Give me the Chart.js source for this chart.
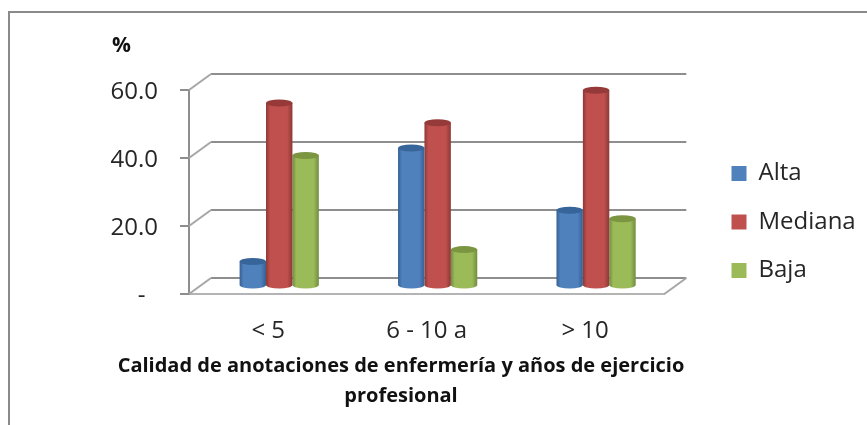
<!DOCTYPE html>
<html lang="es">
<head>
<meta charset="utf-8">
<title>Calidad de anotaciones</title>
<script src="https://cdn.jsdelivr.net/npm/chart.js@4/dist/chart.umd.js"></script>
<style>
    html, body { margin: 0; padding: 0; background: #fff; overflow: hidden; }
    #frame { position: absolute; left: 8px; top: 11px; right: 0; bottom: 0; border-left: 2px solid #8a8a8a; border-top: 2px solid #8a8a8a; }
    #chart { position: absolute; left: 0; top: 0; }
</style>
</head>
<body>
<div id="frame"></div>
<canvas id="chart" width="867" height="425"></canvas>
<script>
const categories = ['< 5', '6 - 10 a', '> 10'];
const alta = [7.2, 40.6, 22.3];
const mediana = [53.8, 48.0, 57.6];
const baja = [38.4, 10.7, 19.8];
const yTicks = [0, 20, 40, 60];
const unitLabel = '%';
const axisTitle = ['Calidad de anotaciones de enfermería y años de ejercicio', 'profesional'];

const FONT = '"Open Sans", "Noto Sans", sans-serif';
const DEPTH = { x: 22, y: -16 };
const EDGE = { alta: '#376092', mediana: '#8c3836', baja: '#728c40' };
const CAP = { alta: '#376599', mediana: '#953a38', baja: '#7b9541' };

// cylinder with dark sides and a darker elliptical cap, set halfway into the floor
function drawCylinder(ctx, bar, color, edge, cap) {
    const x = bar.x + DEPTH.x / 2, w = bar.width;
    const top = bar.y + DEPTH.y / 2, bottom = bar.base + DEPTH.y / 2;
    const ry = 3.5;
    const grad = ctx.createLinearGradient(x - w / 2, 0, x + w / 2, 0);
    grad.addColorStop(0, edge);
    grad.addColorStop(0.15, color);
    grad.addColorStop(0.8, color);
    grad.addColorStop(1, edge);
    ctx.fillStyle = grad;
    ctx.beginPath();
    ctx.moveTo(x - w / 2, top);
    ctx.lineTo(x - w / 2, bottom);
    ctx.ellipse(x, bottom, w / 2, ry, 0, Math.PI, 0, true);
    ctx.lineTo(x + w / 2, top);
    ctx.closePath();
    ctx.fill();
    ctx.fillStyle = cap;
    ctx.beginPath();
    ctx.ellipse(x, top, w / 2, ry, 0, 0, Math.PI * 2);
    ctx.fill();
}

const box3d = {
    id: 'box3d',
    afterLayout(chart) {
        // legend sits apart from the plot, aligned with the category band
        const legend = chart.legend;
        legend.left = 707;
        legend.right = chart.width;
        legend.top = 137;
        legend.bottom = chart.height;
    },
    beforeDatasetsDraw(chart) {
        const { ctx, scales: { x, y } } = chart;
        ctx.save();
        ctx.lineWidth = 2;
        yTicks.forEach(v => {
            const py = y.getPixelForValue(v);
            ctx.strokeStyle = '#8e8e8e';
            ctx.beginPath();
            ctx.moveTo(x.left + DEPTH.x, py + DEPTH.y);
            ctx.lineTo(x.right + DEPTH.x, py + DEPTH.y);
            ctx.stroke();
            ctx.strokeStyle = '#a6a6a6';
            ctx.beginPath();
            ctx.moveTo(x.left, py);
            ctx.lineTo(x.left + DEPTH.x, py + DEPTH.y);
            ctx.stroke();
        });
        // right edge of the floor
        const floor = y.getPixelForValue(0);
        ctx.strokeStyle = '#a6a6a6';
        ctx.beginPath();
        ctx.moveTo(x.right, floor);
        ctx.lineTo(x.right + DEPTH.x, floor + DEPTH.y);
        ctx.stroke();
        ctx.restore();
    },
    beforeDatasetDraw(chart, args) {
        const ds = chart.data.datasets[args.index];
        args.meta.data.forEach(el => {
            drawCylinder(chart.ctx, el.getProps(['x', 'y', 'base', 'width'], true), ds.backgroundColor, ds.edgeColor, ds.capColor);
        });
        return false;
    },
    afterDraw(chart) {
        const { ctx, scales: { y } } = chart;
        ctx.save();
        ctx.fillStyle = '#111';
        ctx.textBaseline = 'middle';
        ctx.font = 'bold 21px ' + FONT;
        ctx.textAlign = 'left';
        ctx.fillText(unitLabel, 112, y.top - 44);
        ctx.font = 'bold 20px ' + FONT;
        ctx.textAlign = 'center';
        axisTitle.forEach((line, i) => ctx.fillText(line, 401, 366 + i * 30));
        ctx.restore();
    }
};

new Chart(document.getElementById('chart'), {
    type: 'bar',
    plugins: [box3d],
    data: {
        labels: categories,
        datasets: [
            { label: 'Alta', data: alta, backgroundColor: '#4f81bd', edgeColor: EDGE.alta, capColor: CAP.alta },
            { label: 'Mediana', data: mediana, backgroundColor: '#c0504d', edgeColor: EDGE.mediana, capColor: CAP.mediana },
            { label: 'Baja', data: baja, backgroundColor: '#9bbb59', edgeColor: EDGE.baja, capColor: CAP.baja }
        ]
    },
    options: {
        responsive: false,
        animation: false,
        layout: { padding: { left: 100, top: 90, right: 44, bottom: 71 } },
        datasets: { bar: { categoryPercentage: 0.5, barPercentage: 1 } },
        plugins: {
            tooltip: { enabled: false },
            legend: {
                position: 'right',
                align: 'start',
                labels: {
                    boxWidth: 15, boxHeight: 15, padding: 24.5,
                    color: '#262626', font: { family: FONT, size: 24 }
                }
            }
        },
        scales: {
            x: {
                afterFit: s => { s.height = 60; },
                grid: { display: false },
                border: { display: true, color: '#b4b4b4', width: 2 },
                ticks: { color: '#262626', font: { family: FONT, size: 24 }, padding: 15, maxRotation: 0, autoSkip: false }
            },
            y: {
                min: 0, max: 60,
                afterFit: s => { s.width = 89; },
                afterBuildTicks: s => { s.ticks = yTicks.map(value => ({ value })); },
                grid: { drawOnChartArea: false, tickLength: 9, color: '#8e8e8e', lineWidth: 2 },
                border: { display: true, color: '#8e8e8e', width: 2 },
                ticks: {
                    color: '#262626', font: { family: FONT, size: 24 }, padding: 22, labelOffset: 2,
                    callback: v => v === 0 ? '-  ' : v.toFixed(1)
                }
            }
        }
    }
});
</script>
</body>
</html>
